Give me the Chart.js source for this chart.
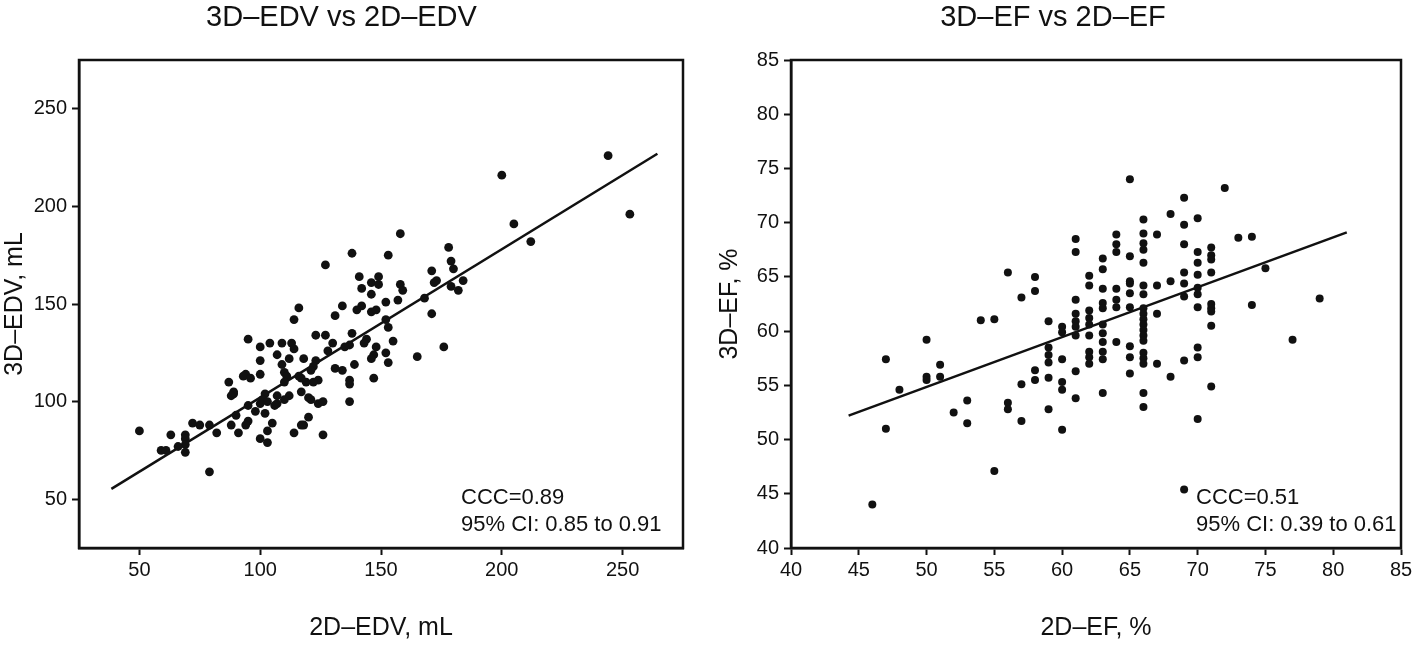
<!DOCTYPE html>
<html>
<head>
<meta charset="utf-8">
<script src="https://cdn.jsdelivr.net/npm/chart.js@4.4.1/dist/chart.umd.min.js"></script>
<style>
  html, body { margin: 0; padding: 0; background: #fff; }
  #wrap { position: relative; width: 1418px; height: 646px; }
  #edvChart { position: absolute; left: 0; top: 0; }
  #efChart { position: absolute; left: 705px; top: 0; }
</style>
</head>
<body>
<div id="wrap">
  <canvas id="edvChart" width="705" height="646"></canvas>
  <canvas id="efChart" width="713" height="646"></canvas>
</div>
<script>
// ---- left panel: 3D-EDV vs 2D-EDV (mL) ----
const edvX = [50,244,200,253,205,212,158,138,127,153,178,171,179,180,141,149,146,149,142,146,158,159,157,168,172,173,179,182,184,171,176,165,152,134,142,140,131,146,148,152,153,155,152,153,147,146,147,148,144,143,138,137,135,139,137,137,137,134,131,130,127,123,128,123,122,121,124,122,119,117,116,118,117,120,121,124,126,120,118,117,114,126,116,114,113,114,109,104,100,95,107,112,109,100,100,94,93,96,87,89,89,88,110,111,110,112,110,107,107,106,102,101,103,100,95,98,102,90,105,95,94,88,91,100,103,103,82,79,75,72,69,69,69,69,66,63,59,61,79]
const edvY = [85,226,216,196,191,182,186,176,170,175,179,167,172,168,164,164,161,160,158,155,160,157,152,153,161,162,159,157,162,145,128,123,151,149,149,147,144,146,147,142,138,131,125,120,124,122,112,128,132,130,135,129,128,119,111,109,100,116,117,130,134,134,126,121,118,116,111,110,110,112,113,122,105,102,101,99,100,92,88,88,84,83,148,142,130,127,130,130,128,132,124,122,119,121,114,114,113,112,110,105,104,103,115,113,110,103,101,103,99,98,104,101,100,99,98,95,94,93,89,90,88,88,84,81,79,85,84,88,88,89,83,81,78,74,77,83,75,75,64]
const edvFitX = [38.4, 264.4]
const edvFitY = [55.3, 227]
const edvTicks = [50, 100, 150, 200, 250]

// ---- right panel: 3D-EF vs 2D-EF (%) ----
const efX = [46,47,47,48,50,50,50,51,51,52,53,53,54,55,55,56,56,56,57,57,57,58,58,58,58,59,59,59,59,59,59,60,60,60,60,60,60,61,61,61,61,61,61,61,61,61,62,62,62,62,62,62,62,62,62,63,63,63,63,63,63,63,63,63,63,63,64,64,64,64,64,64,64,65,65,65,65,65,65,65,65,65,66,66,66,66,66,66,66,66,66,66,66,66,66,66,66,66,66,66,66,67,67,67,67,68,68,68,69,69,69,69,69,69,69,69,70,70,70,70,70,70,70,70,70,70,71,71,71,71,71,71,71,71,71,72,73,74,74,75,77,79]
const efY = [44.0,57.4,51.0,54.6,59.2,55.8,55.5,56.9,55.8,52.5,53.6,51.5,61.0,61.1,47.1,65.4,53.4,52.8,63.1,55.1,51.7,65.0,63.7,56.4,55.5,60.9,58.5,57.8,57.1,55.7,52.8,60.4,59.9,57.4,55.3,54.6,50.9,68.5,67.3,62.9,61.6,60.9,60.4,59.6,56.3,53.8,65.1,64.2,61.9,61.2,60.6,59.6,58.1,57.6,57.0,66.7,65.7,63.9,62.6,62.1,60.6,59.8,59.0,58.1,57.4,54.3,68.9,68.0,67.3,63.9,62.9,62.2,59.0,74.0,66.9,64.6,64.4,63.5,62.2,58.6,57.6,56.1,70.3,69.0,68.1,67.5,66.3,64.2,63.4,62.1,61.6,61.1,60.6,60.1,59.6,59.1,58.0,57.5,57.0,54.3,53.0,68.9,64.2,61.6,57.0,70.8,64.6,55.8,72.3,69.8,68.0,65.4,64.4,63.2,57.3,45.4,70.4,67.3,66.3,65.2,64.0,63.4,62.2,58.5,57.6,51.9,67.7,67.0,66.6,65.4,62.5,62.1,61.8,60.5,54.9,73.2,68.6,68.7,62.4,65.8,59.2,63.0]
const efFitX = [44.25, 81]
const efFitY = [52.2, 69.1]
const efTicks = [40, 45, 50, 55, 60, 65, 70, 75, 80, 85]

const fontFamily = '"Liberation Sans", Arial, Helvetica, sans-serif'
const ink = '#111'

function toPoints(xs, ys) {
	return xs.map(function(x, i) { return {x: x, y: ys[i]} })
}

// full box round the plot area
const frameBox = {
	id: 'frameBox',
	afterDraw: function(chart) {
		const a = chart.chartArea
		const ctx = chart.ctx
		ctx.save()
		ctx.strokeStyle = ink
		ctx.lineWidth = 2.5
		ctx.strokeRect(a.left, a.top, a.right - a.left, a.bottom - a.top)
		ctx.restore()
	},
}

// CCC text in the lower right corner
const cccText = {
	id: 'cccText',
	afterDraw: function(chart, args, opts) {
		const ctx = chart.ctx
		ctx.save()
		ctx.fillStyle = ink
		ctx.font = '22px ' + fontFamily
		ctx.textAlign = 'left'
		ctx.textBaseline = 'middle'
		opts.lines.forEach(function(line, i) {
			ctx.fillText(line, opts.x, opts.y + i * 27)
		})
		ctx.restore()
	},
}

function makeChart(id, cfg) {
	let ctx = document.getElementById(id).getContext('2d')
	return new Chart(ctx, {
		type: 'scatter',
		data: {
			datasets: [
				{
					data: toPoints(cfg.xs, cfg.ys),
					pointRadius: cfg.dot,
					pointBackgroundColor: ink,
					pointBorderWidth: 0,
				},
				{
					type: 'line',
					data: toPoints(cfg.fitX, cfg.fitY),
					borderColor: ink,
					borderWidth: 2.5,
					pointRadius: 0,
					fill: false,
				},
			],
		},
		options: {
			responsive: false,
			animation: false,
			events: [],
			layout: {
				padding: {left: 0, right: cfg.padRight, top: 0, bottom: 0},
			},
			plugins: {
				legend: {display: false},
				tooltip: {enabled: false},
				title: {
					display: true,
					text: cfg.title,
					color: ink,
					font: {family: fontFamily, size: 29, weight: 'normal'},
					padding: {top: 1, bottom: 24.2},
				},
				cccText: {lines: cfg.ccc, x: cfg.cccX, y: 498},
			},
			scales: {
				x: {
					type: 'linear',
					min: cfg.xMin,
					max: cfg.xMax,
					afterBuildTicks: function(scale) {
						scale.ticks = cfg.ticks.map(function(v) { return {value: v} })
					},
					afterFit: function(scale) { scale.height = 98 },
					grid: {drawOnChartArea: false, drawTicks: true, tickLength: 7, tickColor: ink, tickWidth: 2},
					border: {display: true, color: ink, width: 2.5},
					ticks: {color: ink, padding: 3, maxRotation: 0, font: {family: fontFamily, size: 20}},
					title: {
						display: true,
						text: cfg.xTitle,
						color: ink,
						font: {family: fontFamily, size: 25},
						padding: {top: 0, bottom: 3},
					},
				},
				y: {
					type: 'linear',
					min: cfg.yMin,
					max: cfg.yMax,
					afterBuildTicks: function(scale) {
						scale.ticks = cfg.ticks.map(function(v) { return {value: v} })
					},
					afterFit: function(scale) { scale.width = cfg.yWidth },
					grid: {drawOnChartArea: false, drawTicks: true, tickLength: 7, tickColor: ink, tickWidth: 2},
					border: {display: true, color: ink, width: 2.5},
					ticks: {color: ink, padding: 5, font: {family: fontFamily, size: 20}},
					title: {
						display: true,
						text: cfg.yTitle,
						color: ink,
						font: {family: fontFamily, size: 25},
						padding: {top: cfg.yTitlePad, bottom: 0},
					},
				},
			},
		},
		plugins: [frameBox, cccText],
	})
}

makeChart('edvChart', {
	xs: edvX, ys: edvY, fitX: edvFitX, fitY: edvFitY, ticks: edvTicks,
	xMin: 25, xMax: 275, yMin: 25, yMax: 275,
	title: '3D\u2013EDV vs 2D\u2013EDV',
	xTitle: '2D\u2013EDV, mL',
	yTitle: '3D\u2013EDV, mL',
	ccc: ['CCC=0.89', '95% CI: 0.85 to 0.91'],
	cccX: 461, padRight: 22, yWidth: 79, yTitlePad: 0, dot: 4.4,
})

makeChart('efChart', {
	xs: efX, ys: efY, fitX: efFitX, fitY: efFitY, ticks: efTicks,
	xMin: 40, xMax: 85, yMin: 40, yMax: 85,
	title: '3D\u2013EF vs 2D\u2013EF',
	xTitle: '2D\u2013EF, %',
	yTitle: '3D\u2013EF, %',
	ccc: ['CCC=0.51', '95% CI: 0.39 to 0.61'],
	cccX: 491, padRight: 17, yWidth: 86, yTitlePad: 10, dot: 4,
})
</script>
</body>
</html>
